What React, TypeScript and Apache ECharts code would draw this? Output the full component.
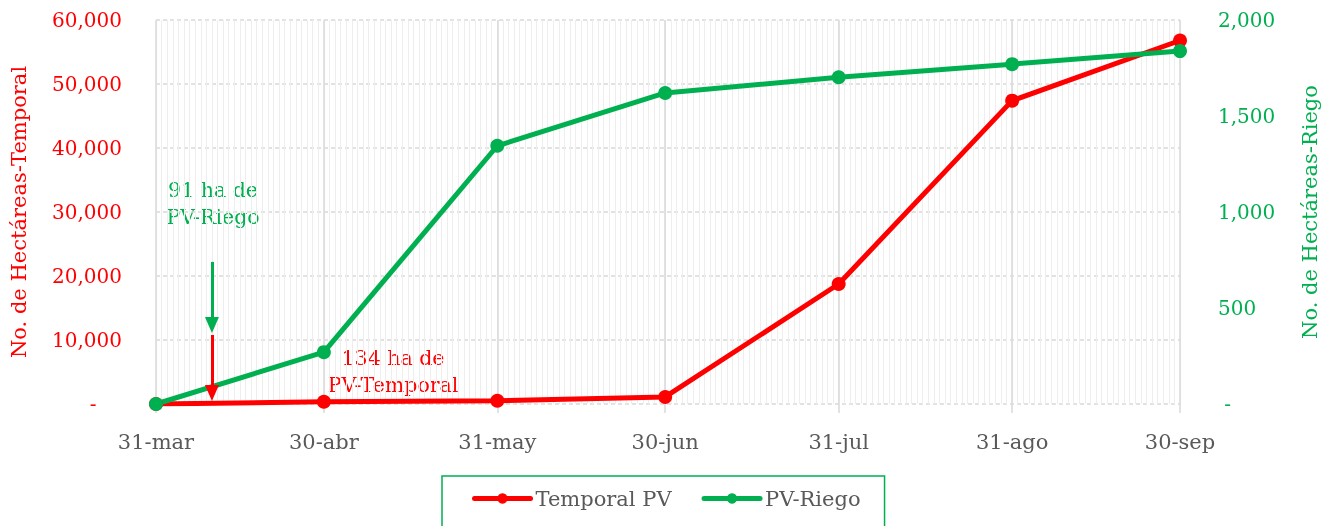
import React, { useEffect, useRef } from "react";
import * as echarts from "echarts";

const dates = ["2023-03-31", "2023-04-30", "2023-05-31", "2023-06-30", "2023-07-31", "2023-08-31", "2023-09-30"];
const dateLabels = ["31-mar", "30-abr", "31-may", "30-jun", "31-jul", "31-ago", "30-sep"];
const temporalPV = [0, 350, 500, 1100, 18750, 47400, 56800];
const pvRiego = [0, 270, 1345, 1620, 1702, 1770, 1838];
const annotationDate = "2023-04-10";
const riegoArrow = [740, 411];
const temporalArrow = [10780, 1720];

const DAY = 86400000;
const FONT = "DejaVu Serif";
const RED = "#ff0000";
const GREEN = "#00b050";
const GRAY = "#595959";

export default function App() {
  const ref = useRef<HTMLDivElement>(null);
  useEffect(() => {
    if (!ref.current) return;
    const chart = echarts.init(ref.current, undefined, { renderer: "svg" });
    const ts = dates.map((d) => new Date(d).getTime());
    const annTs = new Date(annotationDate).getTime();
    const labelOf = (v: number) => {
      const i = ts.indexOf(v);
      return i >= 0 ? dateLabels[i] : "";
    };
    const fmt = (v: number) => (v === 0 ? "-    " : v.toLocaleString("en-US"));
    const fmtR = (v: number) => (v === 0 ? " -" : v.toLocaleString("en-US"));
    chart.setOption({
      animation: false,
      textStyle: { fontFamily: FONT },
      grid: { left: 155, right: 153, top: 20, bottom: 122 },
      legend: {
        left: 442,
        top: 476,
        padding: [12, 24, 40, 30],
        itemGap: 30,
        itemWidth: 56,
        itemHeight: 13,
        borderColor: GREEN,
        borderWidth: 1.5,
        lineStyle: { width: 5, cap: "round" },
        textStyle: { color: GRAY, fontSize: 21, fontFamily: FONT },
        data: ["Temporal PV", "PV-Riego"],
      },
      xAxis: [
        {
          type: "value",
          min: ts[0],
          max: ts[ts.length - 1],
          interval: DAY,
          position: "bottom",
          axisLine: { show: false },
          axisTick: { show: false },
          axisLabel: { show: false },
          splitLine: { show: true, lineStyle: { color: "#eeeeee", width: 1 } },
        },
        {
          type: "value",
          min: ts[0],
          max: ts[ts.length - 1],
          position: "bottom",
          axisLine: { show: false },
          axisTick: { show: true, customValues: ts, length: 9, lineStyle: { color: "#d9d9d9", width: 1.5 } },
          axisLabel: {
            show: true,
            customValues: ts,
            formatter: labelOf,
            color: GRAY,
            fontSize: 21,
            fontFamily: FONT,
            margin: 27,
          },
          splitLine: { show: true, lineStyle: { color: "#d9d9d9", width: 1.5 } },
        },
      ],
      yAxis: [
        {
          type: "value",
          min: 0,
          max: 60000,
          interval: 10000,
          name: "No. de Hectáreas-Temporal",
          nameLocation: "middle",
          nameGap: 127,
          nameTextStyle: { color: RED, fontSize: 21, fontFamily: FONT },
          axisLine: { show: false },
          axisTick: { show: false },
          axisLabel: { color: RED, fontSize: 20, fontFamily: FONT, margin: 34, formatter: fmt },
          splitLine: { show: true, lineStyle: { color: "#d9d9d9", type: [4, 3], width: 1.5 } },
        },
        {
          type: "value",
          min: 0,
          max: 2000,
          interval: 500,
          name: "No. de Hectáreas-Riego",
          nameLocation: "middle",
          nameGap: 119,
          nameTextStyle: { color: GREEN, fontSize: 21, fontFamily: FONT },
          axisLine: { show: false },
          axisTick: { show: false },
          axisLabel: { color: GREEN, fontSize: 20, fontFamily: FONT, margin: 38, formatter: fmtR },
          splitLine: { show: false },
        },
      ],
      series: [
        {
          name: "Temporal PV",
          type: "line",
          xAxisIndex: 0,
          yAxisIndex: 0,
          data: ts.map((t, i) => [t, temporalPV[i]]),
          symbol: "circle",
          symbolSize: 14,
          itemStyle: { color: RED },
          lineStyle: { color: RED, width: 5 },
          markLine: {
            silent: true,
            symbol: ["none", "triangle"],
            symbolSize: [14, 16],
            label: { show: false },
            lineStyle: { color: RED, width: 3, type: "solid" },
            data: [[{ coord: [annTs, temporalArrow[0]] }, { coord: [annTs, temporalArrow[1]] }]],
          },
        },
        {
          name: "PV-Riego",
          type: "line",
          xAxisIndex: 0,
          yAxisIndex: 1,
          data: ts.map((t, i) => [t, pvRiego[i]]),
          symbol: "circle",
          symbolSize: 14,
          itemStyle: { color: GREEN },
          lineStyle: { color: GREEN, width: 5 },
          markLine: {
            silent: true,
            symbol: ["none", "triangle"],
            symbolSize: [14, 16],
            label: { show: false },
            lineStyle: { color: GREEN, width: 3, type: "solid" },
            data: [[{ coord: [annTs, riegoArrow[0]] }, { coord: [annTs, riegoArrow[1]] }]],
          },
        },
      ],
      graphic: [
        {
          type: "text",
          x: 213,
          y: 203,
          silent: true,
          style: {
            text: "91 ha de\nPV-Riego",
            fill: GREEN,
            stroke: "none",
            lineWidth: 0,
            fontSize: 20.5,
            fontFamily: FONT,
            align: "center",
            verticalAlign: "middle",
            lineHeight: 27,
          },
        },
        {
          type: "text",
          x: 393,
          y: 371,
          silent: true,
          style: {
            text: "134 ha de\nPV-Temporal",
            fill: RED,
            stroke: "none",
            lineWidth: 0,
            fontSize: 20.5,
            fontFamily: FONT,
            align: "center",
            verticalAlign: "middle",
            lineHeight: 27,
          },
        },
      ],
    });
    return () => chart.dispose();
  }, []);
  return <div ref={ref} style={{ position: "fixed", left: 0, top: 0, width: 1333, height: 526 }} />;
}
